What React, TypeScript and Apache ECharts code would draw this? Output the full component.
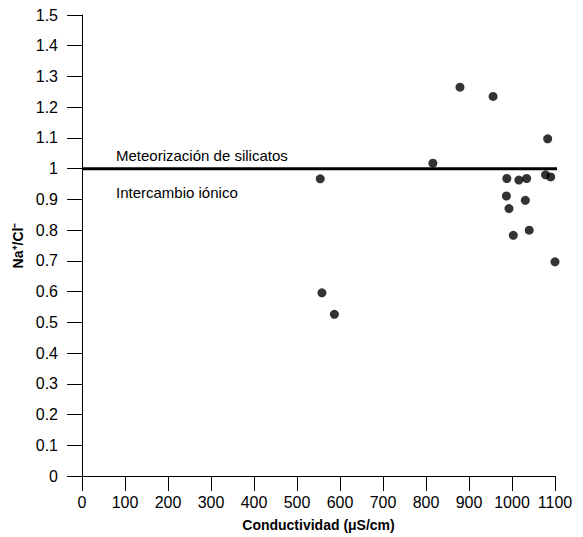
import React, { useEffect, useRef } from "react";
import * as echarts from "echarts";

const conductividad = [554, 558, 587, 816, 879, 956, 1083, 988, 1016, 1034, 1078, 1090, 987, 1031, 993, 1040, 1003, 1100];
const naCl = [0.967, 0.596, 0.526, 1.018, 1.265, 1.235, 1.097, 0.968, 0.963, 0.968, 0.98, 0.973, 0.911, 0.897, 0.87, 0.8, 0.783, 0.697];
const refLineX = [0, 1118];
const refLineY = [1, 1];
const upperLabel = "Meteorización de silicatos";
const lowerLabel = "Intercambio iónico";
const xTitle = "Conductividad (μS/cm)";
const yTitle = "Na⁺/Cl⁻";

const FONT = "'Liberation Sans', Arial, sans-serif";

export default function App() {
  const ref = useRef<HTMLDivElement>(null);
  useEffect(() => {
    const chart = echarts.init(ref.current!, undefined, { renderer: "svg" });
    chart.setOption({
      animation: false,
      backgroundColor: "#ffffff",
      textStyle: { fontFamily: FONT },
      grid: { left: 82, top: 15, right: 28, bottom: 60 },
      xAxis: {
        type: "value",
        min: 0,
        max: 1100,
        interval: 100,
        name: xTitle,
        nameLocation: "middle",
        nameGap: 42,
        nameTextStyle: { fontFamily: FONT, fontWeight: "bold", fontSize: 14, color: "#000" },
        axisLine: { show: true, onZero: false, lineStyle: { color: "#000", width: 1 } },
        axisTick: { show: true, inside: false, length: 15, lineStyle: { color: "#000", width: 1 } },
        axisLabel: {
          margin: 18,
          fontSize: 16,
          color: "#000",
          fontFamily: FONT,
          formatter: (v: number) => String(v),
        },
        splitLine: { show: false },
      },
      yAxis: {
        type: "value",
        min: 0,
        max: 1.5,
        interval: 0.1,
        name: yTitle,
        nameLocation: "middle",
        nameRotate: 90,
        nameGap: 52,
        nameTextStyle: { fontFamily: FONT, fontWeight: "bold", fontSize: 14, color: "#000" },
        axisLine: { show: true, onZero: false, lineStyle: { color: "#000", width: 1 } },
        axisTick: { show: true, inside: false, length: 15, lineStyle: { color: "#000", width: 1 } },
        axisLabel: {
          margin: 24,
          fontSize: 16,
          color: "#000",
          fontFamily: FONT,
          formatter: (v: number) => String(Math.round(v * 10) / 10),
        },
        splitLine: { show: false },
      },
      series: [
        {
          type: "line",
          data: refLineX.map((x, i) => [x, refLineY[i]]),
          symbol: "none",
          clip: false,
          lineStyle: { color: "#000", width: 3 },
          silent: true,
          z: 1,
        },
        {
          type: "scatter",
          data: conductividad.map((x, i) => [x, naCl[i]]),
          symbol: "circle",
          symbolSize: 9,
          clip: false,
          itemStyle: { color: "#000" },
          z: 3,
        },
      ],
      graphic: [
        {
          type: "text",
          left: 116,
          top: 148,
          style: { text: upperLabel, fontSize: 15, fontFamily: FONT, fill: "#000" },
        },
        {
          type: "text",
          left: 116,
          top: 185,
          style: { text: lowerLabel, fontSize: 15, fontFamily: FONT, fill: "#000" },
        },
      ],
    });
    return () => chart.dispose();
  }, []);
  return (
    <div
      ref={ref}
      style={{ position: "absolute", left: 0, top: 0, width: 583, height: 537 }}
    />
  );
}
